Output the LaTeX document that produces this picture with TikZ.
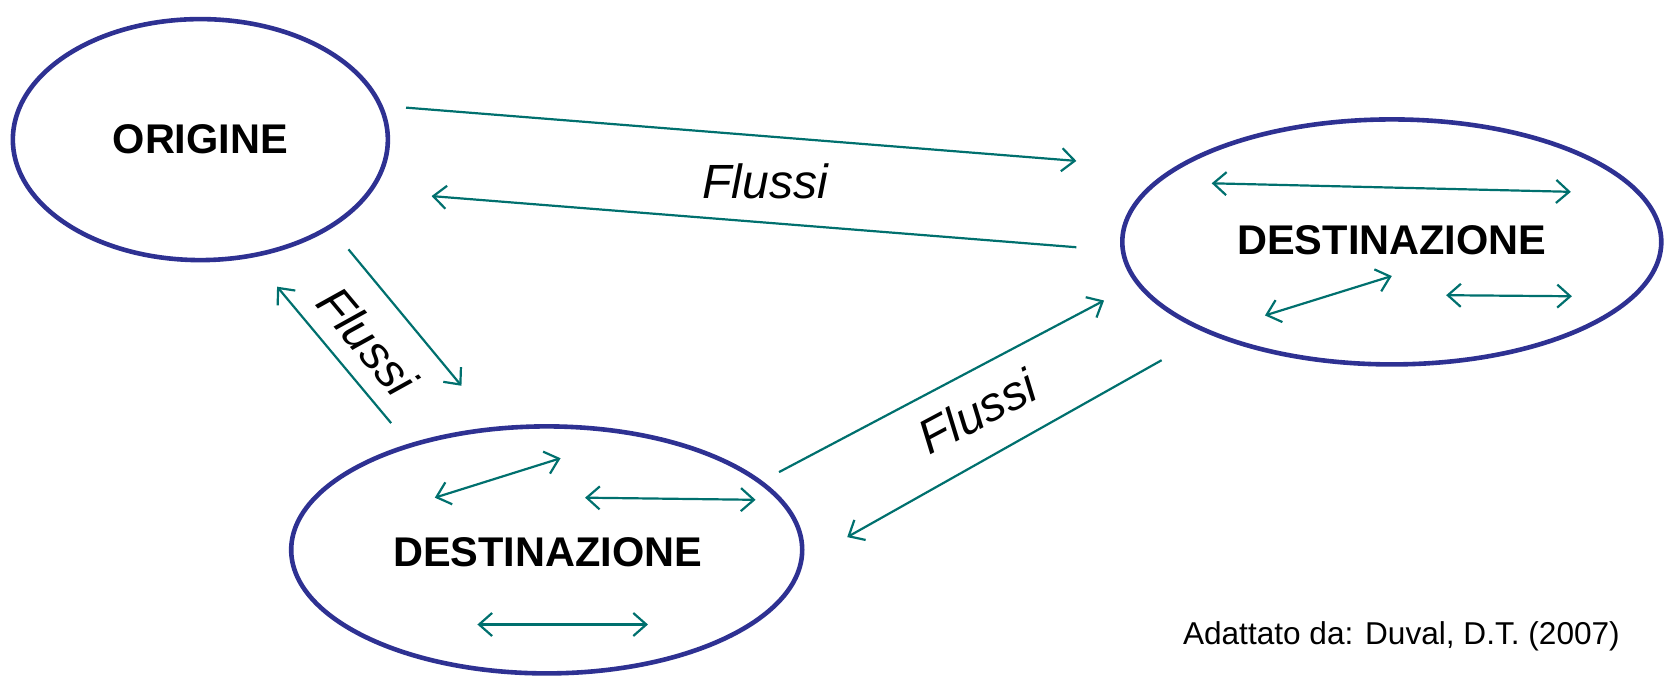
\documentclass[tikz,border=0pt]{standalone}
\usepackage{fontspec}
\setmainfont{Liberation Sans}
\usetikzlibrary{shapes.geometric,arrows.meta}
\definecolor{ellblue}{RGB}{46,49,146}
\definecolor{flowteal}{RGB}{0,112,110}
\begin{document}
\begin{tikzpicture}[x=1.0657pt,y=-1.0657pt,
  place/.style={ellipse,draw=ellblue,line width=4.6pt,inner sep=0pt},
  title/.style={font=\fontsize{41.5}{41.5}\selectfont\bfseries,inner sep=0pt},
  flow/.style={draw=flowteal,line width=2.2pt,-{Straight Barb[length=13pt,width=23pt,line width=2.2pt]}},
  both/.style={draw=flowteal,line width=2.2pt,{Straight Barb[length=13pt,width=23pt,line width=2.2pt]}-{Straight Barb[length=13pt,width=23pt,line width=2.2pt]}},
  lab/.style={font=\fontsize{48}{48}\selectfont\itshape,inner sep=0pt}]
\useasboundingbox (0,0) rectangle (1568,634.3);
\node[place,minimum width=375pt,minimum height=241pt] (orig) at (188,131) {};
\node[title] (origt) at (188,131) {ORIGINE};
\node[place,minimum width=539pt,minimum height=245pt] (destR) at (1306,227) {};
\node[title] (destRt) at (1306,225) {DESTINAZIONE};
\node[place,minimum width=511pt,minimum height=247pt] (destB) at (513,516) {};
\node[title] (destBt) at (514,518) {DESTINAZIONE};
% flow end points
\coordinate (a1) at (381,101); \coordinate (b1) at (1010,151);
\coordinate (a2) at (1010,232); \coordinate (b2) at (405,184);
\coordinate (a3) at (327,234); \coordinate (b3) at (433,362);
\coordinate (a4) at (367,397); \coordinate (b4) at (260,269);
\coordinate (a5) at (731,443); \coordinate (b5) at (1036,282);
\coordinate (a6) at (1090,338); \coordinate (b6) at (795,504);
\draw[flow] (a1) -- (b1);
\draw[flow] (a2) -- (b2);
\draw[flow] (a3) -- (b3);
\draw[flow] (a4) -- (b4);
\draw[flow] (a5) -- (b5);
\draw[flow] (a6) -- (b6);
% internal arrows right
\coordinate (r1a) at (1137,172); \coordinate (r1b) at (1474,180);
\coordinate (r2a) at (1187,296); \coordinate (r2b) at (1306,259);
\coordinate (r3a) at (1357,277); \coordinate (r3b) at (1475,278);
\draw[both] (r1a) -- (r1b);
\draw[both] (r2a) -- (r2b);
\draw[both] (r3a) -- (r3b);
% internal arrows bottom
\coordinate (q1a) at (408,467); \coordinate (q1b) at (526,430);
\coordinate (q2a) at (549,467); \coordinate (q2b) at (709,469);
\coordinate (q3a) at (448,586); \coordinate (q3b) at (608,586);
\draw[both] (q1a) -- (q1b);
\draw[both] (q2a) -- (q2b);
\draw[both] (q3a) -- (q3b);
% labels
\node[lab] (f1) at (718,170) {Flussi};
\node[lab,rotate=-50] (f2) at (345,320) {Flussi};
\node[lab,rotate=28] (f3) at (917,386) {Flussi};
\node[font=\fontsize{31.6}{31.6}\selectfont,inner sep=0pt] (src) at (1315,597) {Adattato da: Duval, D.T. (2007)};
\end{tikzpicture}
\end{document}
